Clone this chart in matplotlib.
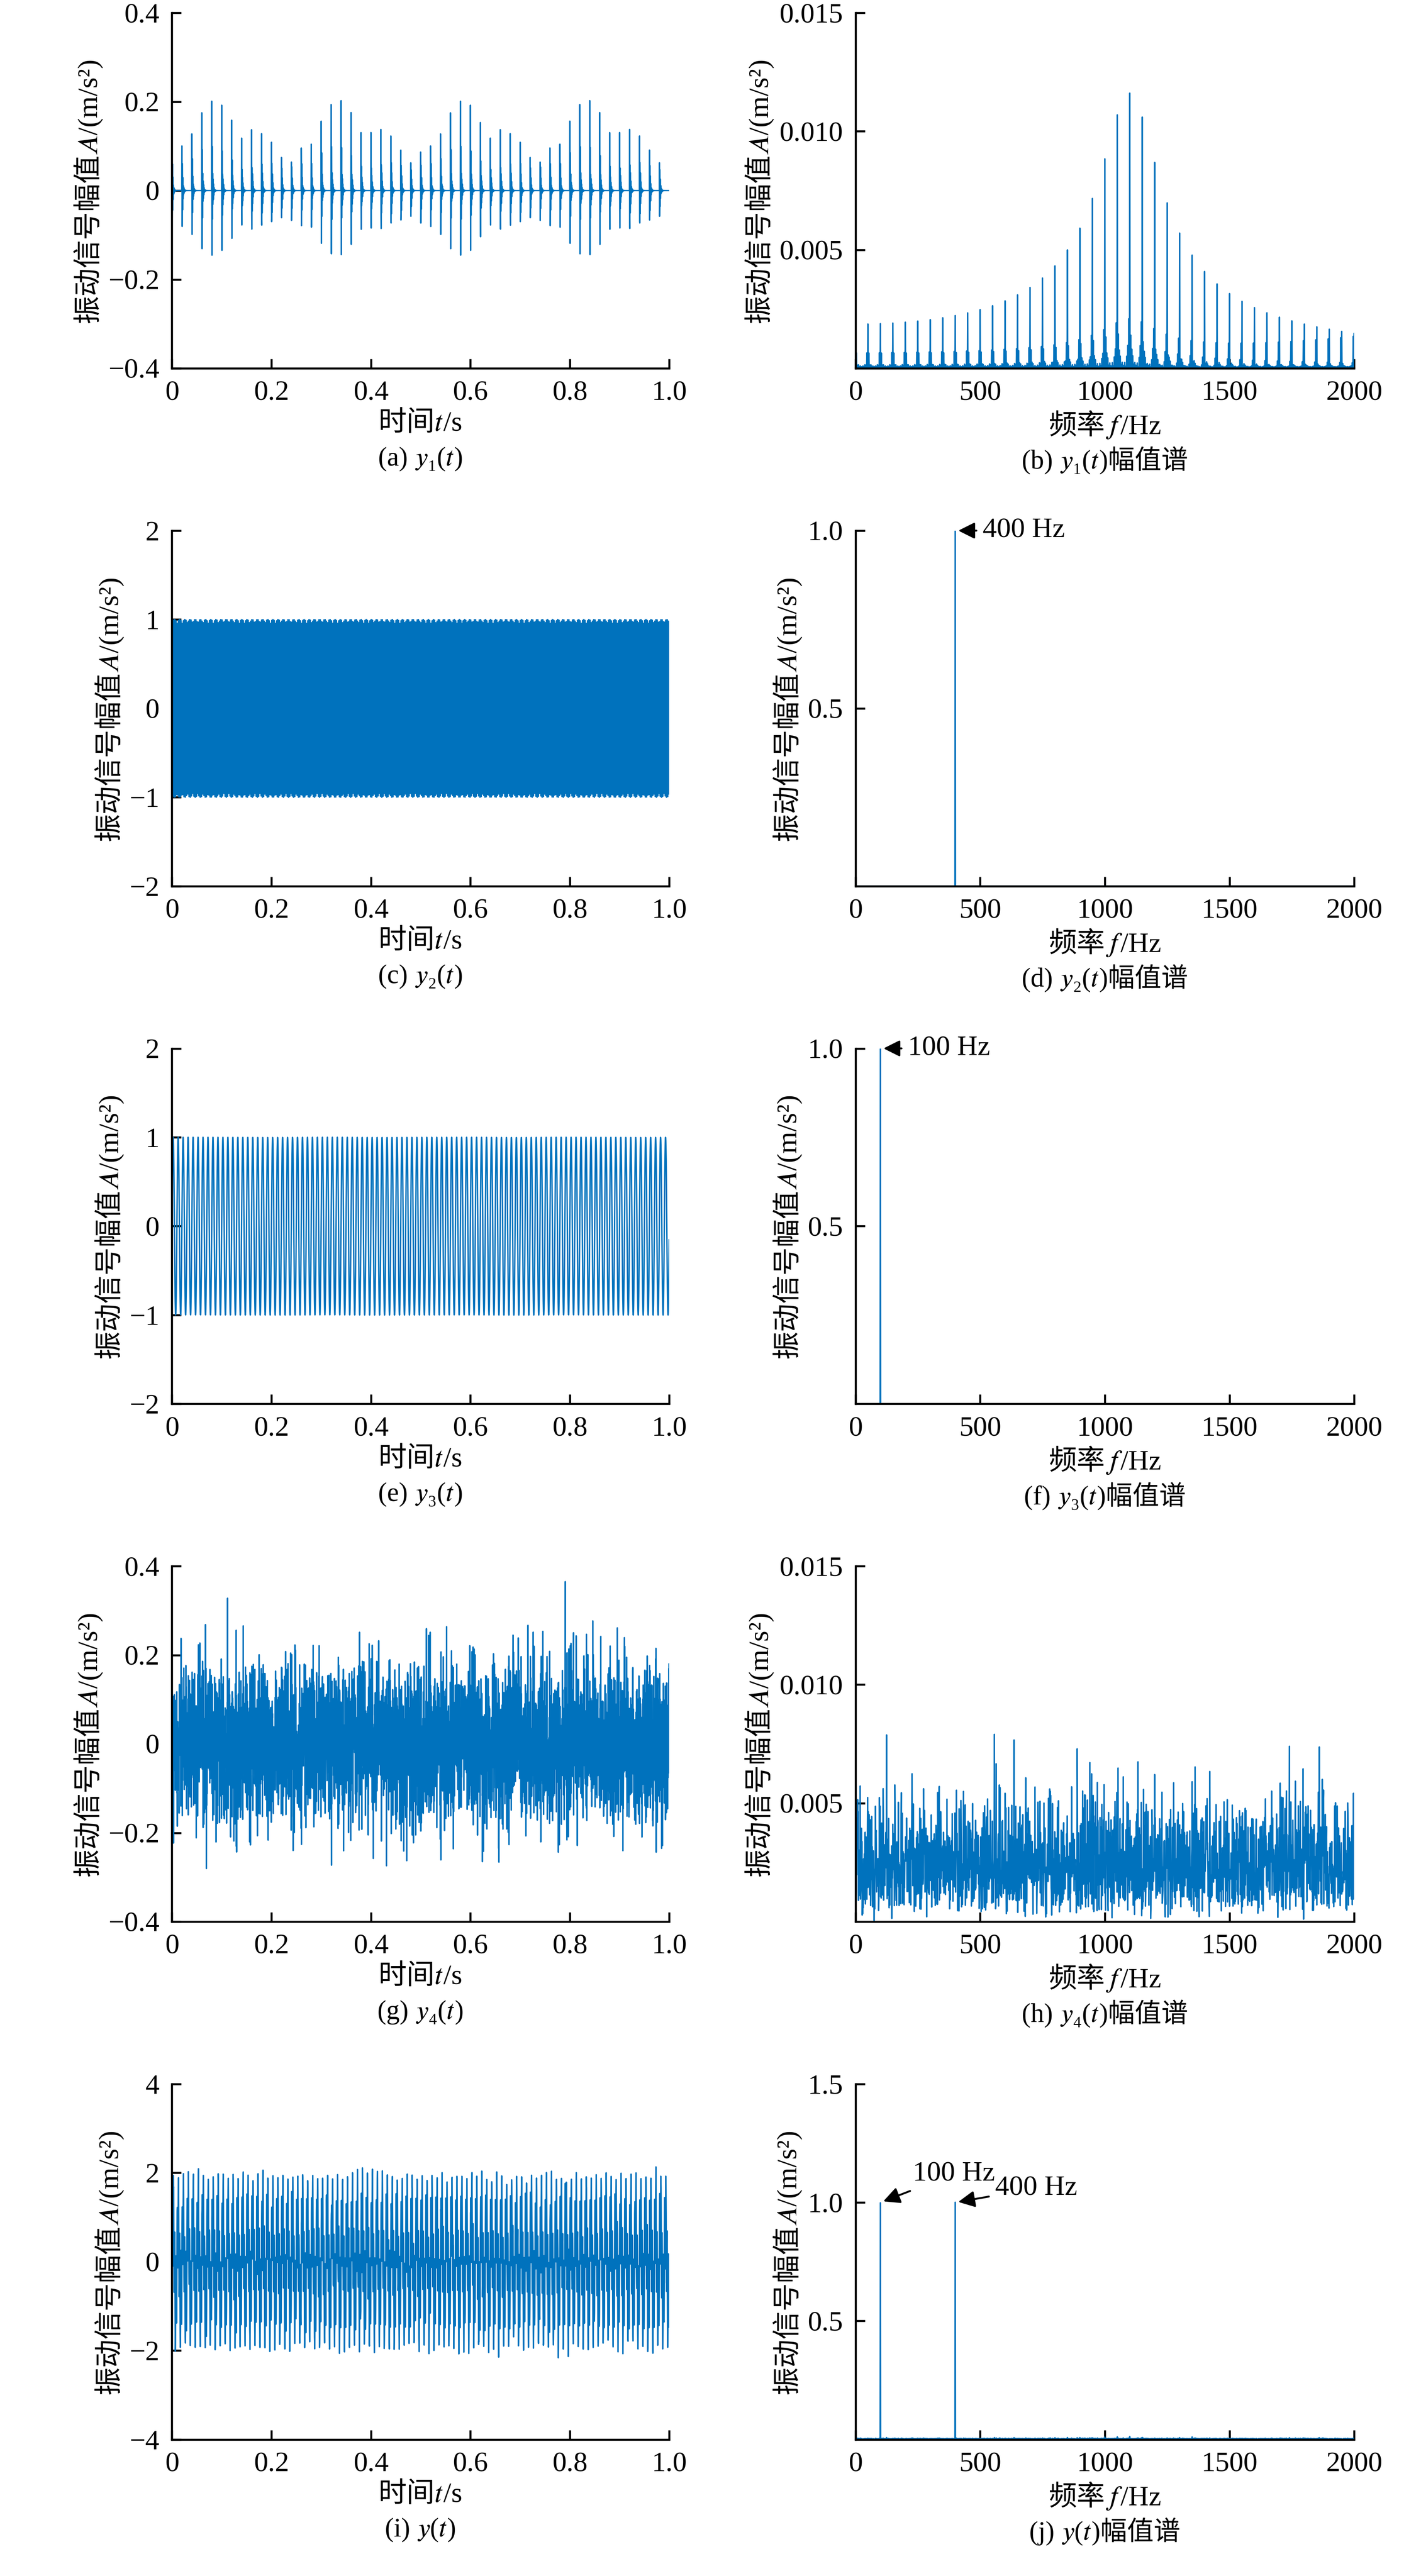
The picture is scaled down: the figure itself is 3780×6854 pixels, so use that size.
import numpy as np
import matplotlib.pyplot as plt

plt.rcParams['font.family'] = ['Liberation Serif', 'Noto Sans CJK SC', 'STIXGeneral']
plt.rcParams['font.size'] = 18
plt.rcParams['axes.unicode_minus'] = True

# sampling
fs = 4096
n = 4096
t = np.arange(n) / fs

# y1: impulse train, 50 impulses/s, peak heights
impulse_times = np.arange(50) * 0.02
impulse_peaks = [0.11, 0.11, 0.13, 0.17, 0.19, 0.18, 0.15, 0.115, 0.14, 0.14,
                 0.13, 0.10, 0.10, 0.11, 0.11, 0.155, 0.185, 0.19, 0.165, 0.125,
                 0.13, 0.145, 0.14, 0.115, 0.09, 0.105, 0.11, 0.13, 0.17, 0.19,
                 0.18, 0.145, 0.115, 0.14, 0.14, 0.13, 0.10, 0.10, 0.11, 0.11,
                 0.155, 0.185, 0.19, 0.165, 0.125, 0.13, 0.145, 0.14, 0.115, 0.09]
ring_freq = 1100.0
ring_decay = 720.0

y1 = np.zeros(n)
for t0, a in zip(impulse_times, impulse_peaks):
    dt = t - t0
    m = dt >= 0
    y1[m] += a * 1.15 * np.exp(-ring_decay * dt[m]) * np.sin(2 * np.pi * ring_freq * dt[m] + 0.8)

y2_freq, y2_amp = 400.0, 1.0
y3_freq, y3_amp = 100.0, 1.0
y2 = y2_amp * np.sin(2 * np.pi * y2_freq * t)
y3 = y3_amp * np.sin(2 * np.pi * y3_freq * t)

# y4: broadband noise, deterministic hash sequence
noise_std = 0.09
k = np.arange(n)
u1 = np.modf(np.abs(np.sin(k * 12.9898 + 1.0) * 43758.5453))[0] + 1e-9
u2 = np.modf(np.abs(np.sin(k * 78.233 + 2.0) * 24634.6345))[0]
y4 = noise_std * np.sqrt(-2 * np.log(u1)) * np.cos(2 * np.pi * u2)

y = y1 + y2 + y3 + y4


def spectrum(sig):
    amp = 2 * np.abs(np.fft.rfft(sig)) / len(sig)
    f = np.fft.rfftfreq(len(sig), 1 / fs)
    return f, amp


signals = [y1, y2, y3, y4, y]
time_ylims = [(-0.4, 0.4), (-2, 2), (-2, 2), (-0.4, 0.4), (-4, 4)]
time_yticks = [[-0.4, -0.2, 0, 0.2, 0.4], [-2, -1, 0, 1, 2], [-2, -1, 0, 1, 2],
               [-0.4, -0.2, 0, 0.2, 0.4], [-4, -2, 0, 2, 4]]
time_yticklabels = [['−0.4', '−0.2', '0', '0.2', '0.4'], ['−2', '−1', '0', '1', '2'],
                    ['−2', '−1', '0', '1', '2'], ['−0.4', '−0.2', '0', '0.2', '0.4'],
                    ['−4', '−2', '0', '2', '4']]
spec_ylims = [(0, 0.015), (0, 1.0), (0, 1.0), (0, 0.015), (0, 1.5)]
spec_yticks = [[0.005, 0.010, 0.015], [0.5, 1.0], [0.5, 1.0], [0.005, 0.010, 0.015], [0.5, 1.0, 1.5]]
spec_yticklabels = [['0.005', '0.010', '0.015'], ['0.5', '1.0'], ['0.5', '1.0'],
                    ['0.005', '0.010', '0.015'], ['0.5', '1.0', '1.5']]
time_captions = ['(a) 𝑦₁(𝑡)', '(c) 𝑦₂(𝑡)', '(e) 𝑦₃(𝑡)', '(g) 𝑦₄(𝑡)', '(i) 𝑦(𝑡)']
spec_captions = ['(b) 𝑦₁(𝑡)幅值谱', '(d) 𝑦₂(𝑡)幅值谱', '(f) 𝑦₃(𝑡)幅值谱',
                 '(h) 𝑦₄(𝑡)幅值谱', '(j) 𝑦(𝑡)幅值谱']

color = '#0072BD'
ylabel = '振动信号幅值𝐴/(m/s²)'

fig = plt.figure(figsize=(12.6, 22.847), dpi=300)
row_bottoms = [0.857, 0.656, 0.455, 0.254, 0.053]
row_h = 0.138


def style(ax):
    ax.spines['top'].set_visible(False)
    ax.spines['right'].set_visible(False)
    for s in ['left', 'bottom']:
        ax.spines[s].set_linewidth(1.3)
    ax.tick_params(direction='in', length=6, width=1.3, labelsize=18, pad=8)


for i in range(5):
    b = row_bottoms[i]
    ax = fig.add_axes([0.121, b, 0.350, row_h])
    ax.plot(t, signals[i], color=color, lw=0.9)
    ax.set_xlim(0, 1.0)
    ax.set_ylim(*time_ylims[i])
    ax.set_xticks([0, 0.2, 0.4, 0.6, 0.8, 1.0])
    ax.set_xticklabels(['0', '0.2', '0.4', '0.6', '0.8', '1.0'])
    ax.set_yticks(time_yticks[i])
    ax.set_yticklabels(time_yticklabels[i])
    ax.set_xlabel('时间𝑡/s', fontsize=18, labelpad=3)
    ax.set_ylabel(ylabel, fontsize=18, labelpad=4)
    style(ax)
    ax.text(0.5, -0.22, time_captions[i], transform=ax.transAxes, ha='center', va='top', fontsize=17)

    ax2 = fig.add_axes([0.602, b, 0.351, row_h])
    f, amp = spectrum(signals[i])
    ax2.plot(f, amp, color=color, lw=0.9)
    ax2.set_xlim(0, 2000)
    ax2.set_ylim(*spec_ylims[i])
    ax2.set_xticks([0, 500, 1000, 1500, 2000])
    ax2.set_yticks(spec_yticks[i])
    ax2.set_yticklabels(spec_yticklabels[i])
    ax2.set_xlabel('频率𝑓/Hz', fontsize=18, labelpad=3)
    ax2.set_ylabel(ylabel, fontsize=18, labelpad=4)
    style(ax2)
    ax2.text(0.5, -0.22, spec_captions[i], transform=ax2.transAxes, ha='center', va='top', fontsize=17)

    arrow = dict(arrowstyle='-|>', color='black', lw=1.2, mutation_scale=22)
    if i == 1:
        ax2.annotate('400 Hz', xy=(y2_freq, 1.0), xytext=(y2_freq + 110, 1.0),
                     va='center', fontsize=18, arrowprops=arrow)
    if i == 2:
        ax2.annotate('100 Hz', xy=(y3_freq, 1.0), xytext=(y3_freq + 110, 1.0),
                     va='center', fontsize=18, arrowprops=arrow)
    if i == 4:
        ax2.annotate('100 Hz', xy=(y3_freq, 1.0), xytext=(y3_freq + 130, 1.12),
                     va='center', fontsize=18, arrowprops=arrow)
        ax2.annotate('400 Hz', xy=(y2_freq, 1.0), xytext=(y2_freq + 160, 1.06),
                     va='center', fontsize=18, arrowprops=arrow)

fig.savefig('out.png', dpi=300)
